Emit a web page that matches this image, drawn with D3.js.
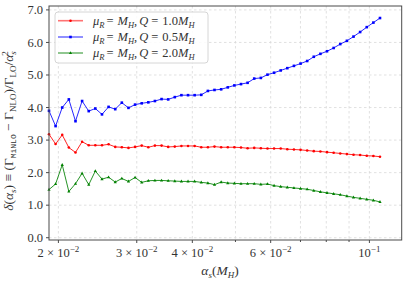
<!DOCTYPE html>
<html><head><meta charset="utf-8">
<script src="https://cdn.jsdelivr.net/npm/d3@7"></script>
<style>
html,body{margin:0;padding:0;background:#fff;}
svg{display:block;font-family:"Liberation Serif","DejaVu Serif",serif;}
</style></head>
<body><svg id="c" width="407" height="283"></svg>
<script>
const alphaS = [0.01905,0.01971,0.02040,0.02111,0.02185,0.02261,0.02340,0.02421,0.02506,0.02593,
  0.02684,0.02777,0.02874,0.02974,0.03078,0.03185,0.03296,0.03411,0.03530,0.03653,
  0.03780,0.03912,0.04048,0.04189,0.04335,0.04486,0.04643,0.04805,0.04972,0.05145,
  0.05324,0.05510,0.05702,0.05901,0.06106,0.06319,0.06539,0.06767,0.07003,0.07247,
  0.07499,0.07761,0.08031,0.08311,0.08601,0.08901,0.09211,0.09532,0.09865,0.10209,0.10564];
const deltaQ10 = [3.18,2.88,3.16,2.77,2.62,2.95,2.84,2.84,2.84,2.87,
  2.79,2.78,2.76,2.79,2.83,2.78,2.83,2.83,2.79,2.80,
  2.82,2.82,2.82,2.78,2.78,2.80,2.78,2.78,2.78,2.77,
  2.75,2.76,2.75,2.74,2.74,2.74,2.72,2.71,2.70,2.68,
  2.66,2.65,2.63,2.61,2.59,2.57,2.55,2.54,2.52,2.51,2.49];
const deltaQ05 = [3.90,3.43,4.00,4.25,3.58,4.20,3.89,3.97,3.79,4.02,
  3.95,4.15,3.99,4.09,4.13,4.16,4.20,4.26,4.25,4.32,
  4.38,4.38,4.38,4.39,4.51,4.54,4.56,4.62,4.68,4.72,
  4.76,4.89,4.91,5.01,5.07,5.14,5.21,5.28,5.35,5.43,
  5.56,5.65,5.73,5.83,5.95,6.05,6.18,6.32,6.47,6.61,6.75];
const deltaQ20 = [1.48,1.65,2.24,1.42,1.66,1.98,1.63,2.05,1.80,1.86,
  1.71,1.82,1.73,1.85,1.70,1.75,1.76,1.76,1.75,1.74,
  1.73,1.73,1.73,1.70,1.68,1.63,1.71,1.68,1.67,1.66,
  1.66,1.66,1.64,1.65,1.60,1.57,1.55,1.53,1.51,1.49,
  1.45,1.41,1.38,1.35,1.32,1.28,1.24,1.21,1.18,1.15,1.10];
const seriesLabels = ["1.0", "0.5", "2.0"];
const seriesColors = ["red", "blue", "green"];
const seriesMarkers = ["circle", "square", "triangle"];
const yTicks = [0,1,2,3,4,5,6,7];
const xMajorTicks = [0.02, 0.03, 0.04, 0.06, 0.1];
const xMajorMant = ["2", "3", "4", "6", null];
const xMinorTicks = [0.05, 0.07, 0.08, 0.09];

const series = [deltaQ10, deltaQ05, deltaQ20];
const L = 49, R = 401.7, T = 6, B = 240;
const svg = d3.select("#c");
const x = d3.scaleLog().domain([0.01905, 0.1182]).range([L, R]);
const y = d3.scaleLinear().domain([-0.07, 7.12]).range([B, T]);
const FS = 12.5;
const SUB = 9;

// grid
const g = svg.append("g");
g.selectAll(".gx").data(xMajorTicks.concat(xMinorTicks)).join("line")
  .attr("x1", d => x(d)).attr("x2", d => x(d)).attr("y1", T).attr("y2", B)
  .attr("stroke", "#d9d9d9").attr("stroke-width", 0.8).attr("stroke-dasharray", "2.5,2.5");
g.selectAll(".gy").data(yTicks).join("line")
  .attr("x1", L).attr("x2", R).attr("y1", d => y(d)).attr("y2", d => y(d))
  .attr("stroke", "#d9d9d9").attr("stroke-width", 0.8).attr("stroke-dasharray", "2.5,2.5");

// series
const line = d3.line().x((d, i) => x(alphaS[i])).y(d => y(d));
series.forEach((s, k) => {
  svg.append("path").datum(s).attr("d", line).attr("fill", "none")
    .attr("stroke", seriesColors[k]).attr("stroke-width", 1).attr("stroke-opacity", 0.85);
  drawMarkers(svg, s.map((v, i) => [x(alphaS[i]), y(v)]), seriesMarkers[k], seriesColors[k]);
});

function drawMarkers(sel, pts, type, color) {
  const gg = sel.append("g").attr("fill", color);
  if (type === "circle") {
    gg.selectAll("circle").data(pts).join("circle").attr("cx", d => d[0]).attr("cy", d => d[1]).attr("r", 1.3);
  } else if (type === "square") {
    gg.selectAll("rect").data(pts).join("rect").attr("x", d => d[0] - 1.3).attr("y", d => d[1] - 1.3)
      .attr("width", 2.6).attr("height", 2.6);
  } else {
    gg.selectAll("path").data(pts).join("path")
      .attr("d", d => `M${d[0]},${d[1] - 1.8}L${d[0] + 1.6},${d[1] + 1.1}L${d[0] - 1.6},${d[1] + 1.1}Z`);
  }
}

// spines
svg.append("rect").attr("x", L).attr("y", T).attr("width", R - L).attr("height", B - T)
  .attr("fill", "none").attr("stroke", "#4a4a4a").attr("stroke-width", 1);

// y ticks
svg.selectAll(".yt").data(yTicks).join("line")
  .attr("x1", L - 3).attr("x2", L).attr("y1", d => y(d)).attr("y2", d => y(d)).attr("stroke", "#4a4a4a");
svg.selectAll(".ytl").data(yTicks).join("text")
  .attr("x", L - 6).attr("y", d => y(d) + 4.3).attr("text-anchor", "end")
  .attr("font-size", FS).attr("fill", "#333").text(d => d.toFixed(1));

// x ticks
svg.selectAll(".xt").data(xMajorTicks).join("line")
  .attr("x1", d => x(d)).attr("x2", d => x(d)).attr("y1", B).attr("y2", B + 3).attr("stroke", "#4a4a4a");
svg.selectAll(".xtm").data(xMinorTicks).join("line")
  .attr("x1", d => x(d)).attr("x2", d => x(d)).attr("y1", B).attr("y2", B + 2).attr("stroke", "#4a4a4a");
xMajorTicks.forEach((t, i) => {
  const tx = svg.append("text").attr("x", x(t)).attr("y", 257).attr("text-anchor", "middle")
    .attr("font-size", FS).attr("fill", "#333");
  if (xMajorMant[i]) tx.append("tspan").text(xMajorMant[i] + " × 10");
  else tx.append("tspan").text("10");
  tx.append("tspan").attr("dy", -5).attr("font-size", SUB).text(xMajorMant[i] ? "−2" : "−1");
});

// x label
const xl = svg.append("text").attr("x", 220).attr("y", 275).attr("text-anchor", "middle")
  .attr("font-size", FS + 1).attr("fill", "#333");
xl.append("tspan").attr("font-style", "italic").text("α");
xl.append("tspan").attr("font-style", "italic").attr("font-size", SUB).attr("dy", 2.5).text("s");
xl.append("tspan").attr("dy", -2.5).text("(");
xl.append("tspan").attr("font-style", "italic").text("M");
xl.append("tspan").attr("font-style", "italic").attr("font-size", SUB).attr("dy", 2.5).text("H");
xl.append("tspan").attr("dy", -2.5).text(")");

// y label
const yl = svg.append("text").attr("transform", `translate(13,131) rotate(-90)`)
  .attr("text-anchor", "middle").attr("font-size", FS + 1).attr("fill", "#333");
yl.append("tspan").attr("font-style", "italic").text("δ");
yl.append("tspan").text("(");
yl.append("tspan").attr("font-style", "italic").text("α");
yl.append("tspan").attr("font-style", "italic").attr("font-size", SUB).attr("dy", 2.5).text("s");
yl.append("tspan").attr("dy", -2.5).text(")  ≡  (Γ");
yl.append("tspan").attr("font-family", "Liberation Mono, DejaVu Sans Mono, monospace").attr("font-size", 8).attr("dy", 2.5).text("MiNLO");
yl.append("tspan").attr("dy", -2.5).text(" − Γ");
yl.append("tspan").attr("font-size", SUB).attr("dy", 2.5).text("NLO");
yl.append("tspan").attr("dy", -2.5).text(")/Γ");
yl.append("tspan").attr("font-size", SUB).attr("dy", 2.5).text("LO");
yl.append("tspan").attr("dy", -2.5).text("/");
yl.append("tspan").attr("font-style", "italic").text("α");
yl.append("tspan").attr("font-style", "italic").attr("font-size", SUB).attr("dy", 2.5).text("s");
yl.append("tspan").attr("font-size", SUB).attr("dx", -4.5).attr("dy", -8).text("2");

// legend
const lg = svg.append("g");
lg.append("rect").attr("x", 55).attr("y", 12).attr("width", 153).attr("height", 51).attr("rx", 3)
  .attr("fill", "white").attr("fill-opacity", 0.85).attr("stroke", "#cccccc").attr("stroke-width", 0.8);
const rowsY = [20.7, 37, 53];
seriesLabels.forEach((lab, k) => {
  const ry = rowsY[k];
  lg.append("line").attr("x1", 58).attr("x2", 83).attr("y1", ry).attr("y2", ry)
    .attr("stroke", seriesColors[k]).attr("stroke-width", 1.6).attr("stroke-opacity", 0.55);
  drawMarkers(lg, [[70.5, ry]], seriesMarkers[k], seriesColors[k]);
  const t = lg.append("text").attr("x", 93).attr("y", ry + 4.3).attr("font-size", FS).attr("fill", "#333");
  t.append("tspan").attr("font-style", "italic").text("μ");
  t.append("tspan").attr("font-style", "italic").attr("font-size", 8.5).attr("dy", 2.5).text("R");
  t.append("tspan").attr("dy", -2.5).attr("dx", 2).text("=");
  t.append("tspan").attr("dx", 4).attr("font-style", "italic").text("M");
  t.append("tspan").attr("font-style", "italic").attr("font-size", 8.5).attr("dy", 2.5).text("H");
  t.append("tspan").attr("dy", -2.5).text(",");
  t.append("tspan").attr("dx", 2).attr("font-style", "italic").text("Q");
  t.append("tspan").attr("dx", 3).text("=");
  t.append("tspan").attr("dx", 4).text(lab);
  t.append("tspan").attr("font-style", "italic").text("M");
  t.append("tspan").attr("font-style", "italic").attr("font-size", 8.5).attr("dy", 2.5).text("H");
});
</script></body></html>
